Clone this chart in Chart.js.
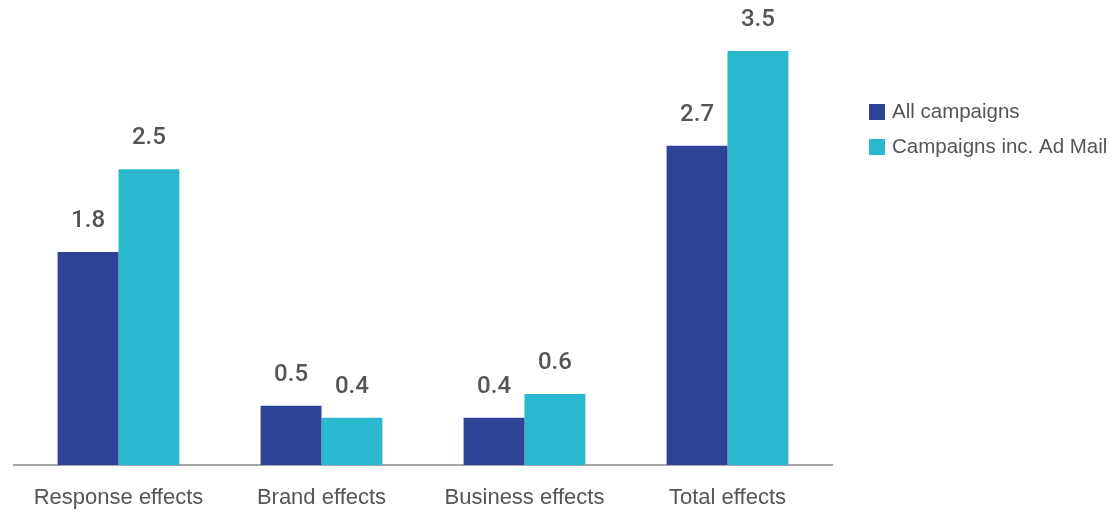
<!DOCTYPE html>
<html>
<head>
<meta charset="utf-8">
<script src="https://cdn.jsdelivr.net/npm/chart.js@4"></script>
<style>
  html, body { margin: 0; padding: 0; background: #fff; }
  #wrap { width: 1112px; height: 516px; position: relative; }
</style>
</head>
<body>
<div id="wrap"><canvas id="effectsChart"></canvas></div>
<script>
var categories = ['Response effects', 'Brand effects', 'Business effects', 'Total effects'];
var allCampaigns = [1.8, 0.5, 0.4, 2.7];
var adMailCampaigns = [2.5, 0.4, 0.6, 3.5];
var seriesNames = ['All campaigns', 'Campaigns inc. Ad Mail'];
var seriesColors = ['#2e4395', '#29b8ce'];

var textColor = '#555555';
var fontFamily = '"Liberation Sans", Arial, sans-serif';

// baseline runs a little past the outer bar groups
var baseLine = {
    id: 'baseLine',
    beforeDatasetsDraw: function (chart) {
        var ctx = chart.ctx;
        var area = chart.chartArea;
        ctx.save();
        ctx.strokeStyle = '#a6a6a6';
        ctx.lineWidth = 2;
        ctx.beginPath();
        ctx.moveTo(area.left - 4, area.bottom);
        ctx.lineTo(area.right + 4, area.bottom);
        ctx.stroke();
        ctx.restore();
    }
};

// value printed above each bar
var valueLabels = {
    id: 'valueLabels',
    afterDatasetsDraw: function (chart) {
        var ctx = chart.ctx;
        ctx.save();
        ctx.fillStyle = textColor;
        ctx.font = '500 24px Roboto, ' + fontFamily;
        ctx.textAlign = 'center';
        ctx.textBaseline = 'middle';
        chart.data.datasets.forEach(function (ds, i) {
            chart.getDatasetMeta(i).data.forEach(function (bar, j) {
                ctx.fillText(ds.data[j].toFixed(1), bar.x, bar.y - 31);
            });
        });
        ctx.restore();
    }
};

// legend drawn at the right of the plot
var sideLegend = {
    id: 'sideLegend',
    afterDraw: function (chart) {
        var ctx = chart.ctx;
        ctx.save();
        ctx.font = '20.5px ' + fontFamily;
        ctx.textBaseline = 'middle';
        chart.data.datasets.forEach(function (ds, i) {
            var y = 112 + i * 35;
            ctx.fillStyle = ds.backgroundColor;
            ctx.fillRect(869, y - 8, 16, 16);
            ctx.fillStyle = textColor;
            ctx.fillText(ds.label, 892, y);
        });
        ctx.restore();
    }
};

var ctx = document.getElementById('effectsChart').getContext('2d');
var effectsChart = new Chart(ctx, {
    type: 'bar',
    data: {
        labels: categories,
        datasets: [{
            label: seriesNames[0],
            data: allCampaigns,
            backgroundColor: seriesColors[0]
        }, {
            label: seriesNames[1],
            data: adMailCampaigns,
            backgroundColor: seriesColors[1]
        }]
    },
    options: {
        responsive: true,
        maintainAspectRatio: false,
        animation: false,
        layout: {
            padding: { top: 51, right: 283, left: 17, bottom: 0 }
        },
        datasets: {
            bar: { categoryPercentage: 0.6, barPercentage: 1.0 }
        },
        plugins: {
            legend: { display: false },
            tooltip: { enabled: false }
        },
        scales: {
            x: {
                grid: { display: false, drawTicks: false },
                border: { display: false },
                ticks: {
                    color: textColor,
                    font: { family: fontFamily, size: 22 },
                    padding: 20
                },
                afterFit: function (scale) { scale.height = 51; }
            },
            y: {
                display: false,
                min: 0,
                max: 3.5
            }
        }
    },
    plugins: [baseLine, valueLabels, sideLegend]
});
</script>
</body>
</html>
